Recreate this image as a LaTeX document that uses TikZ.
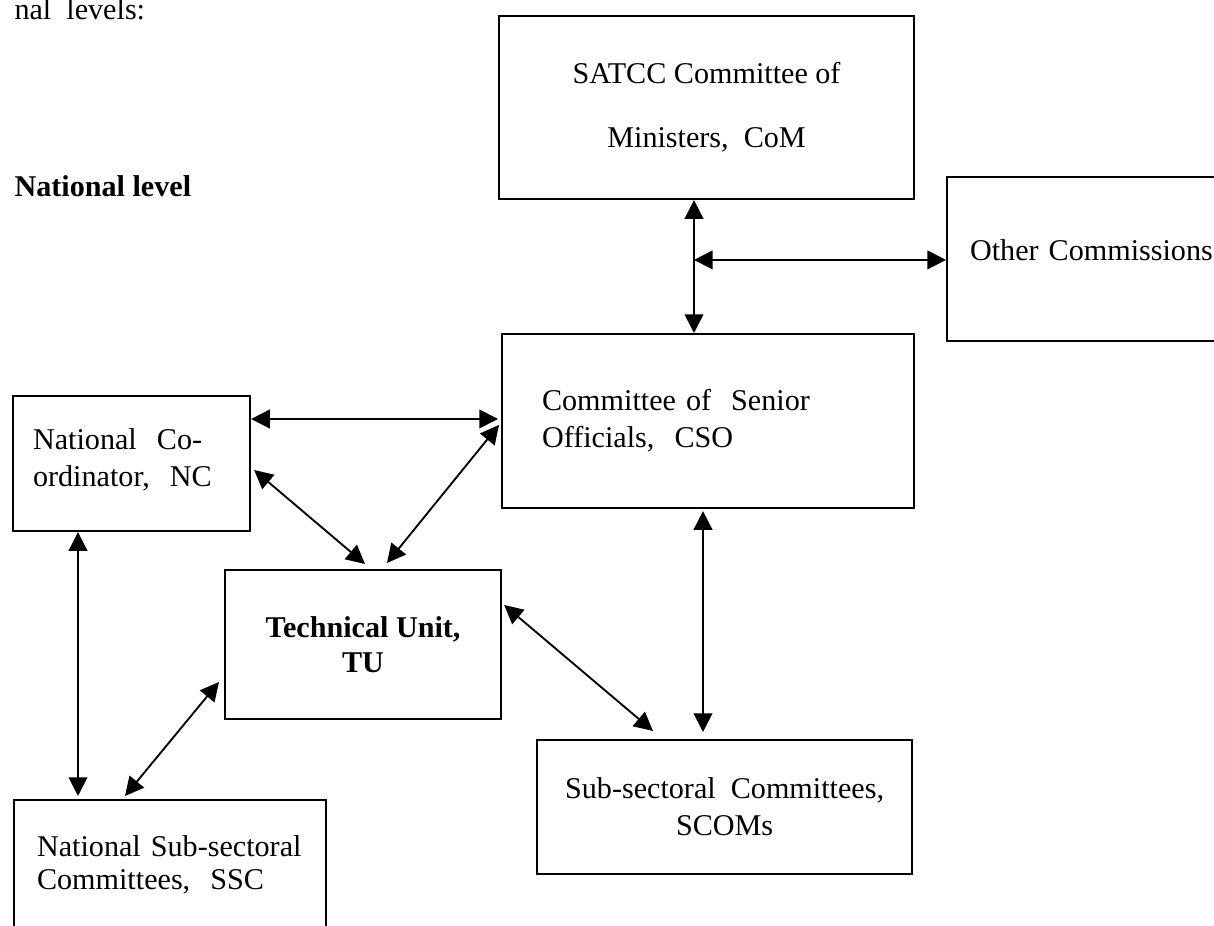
\documentclass[tikz,border=0pt]{standalone}
\usepackage{fontspec}
\setmainfont{Liberation Serif}
\usepackage{tikz}
\usetikzlibrary{
  arrows.meta,   % Triangle 箭头
  calc,          % 坐标计算
  positioning    % 节点相对定位
}

% 像素换算 (1px = 0.375pt)
\newcommand{\pxl}[1]{#1*0.375pt}

\tikzset{
  box/.style={draw, rectangle, line width=0.8pt, anchor=north west, inner sep=0pt,
    font=\fontsize{11.3pt}{13.9pt}\selectfont},
  link/.style={<->, line width=0.7pt},
  plain/.style={anchor=base west, inner sep=0pt, font=\fontsize{11.3pt}{13.9pt}\selectfont}
}

\begin{document}
\begin{tikzpicture}[x=0.375pt, y=-0.375pt, >={Triangle[length=7pt,width=7pt]}]

  \useasboundingbox (0,0) rectangle (1214,926);
  \clip (0,0) rectangle (1214,926);

  % =========== 标题文字 ===========
  \node[plain] (lvls) at (14,20) {nal\ \ levels:};
  \node[plain, font=\fontsize{11.3pt}{13.9pt}\selectfont\bfseries] (natl) at (14,197) {National level};

  % =========== 各委员会方框 ===========
  \node[box, minimum width=\pxl{415}, minimum height=\pxl{183}, align=center]
    (com) at (498,15) {SATCC Committee of\\[10pt]Ministers,\ \ CoM};
  \node[box, minimum width=\pxl{400}, minimum height=\pxl{164}, inner xsep=\pxl{23},
    text width=\pxl{354}, align=left, text height=8pt, text depth=7.25pt]
    (oth) at (946,176) {\mbox{Other Commissions}};
  \node[box, minimum width=\pxl{412}, minimum height=\pxl{174}, inner xsep=\pxl{40},
    text width=\pxl{332}, align=left]
    (cso) at (501,333) {\mbox{Committee of\ \ Senior}\\\mbox{Officials,\ \ CSO}};
  \node[box, minimum width=\pxl{237}, minimum height=\pxl{135}, inner xsep=\pxl{20},
    text width=\pxl{197}, align=left, text height=8pt, text depth=18.75pt]
    (nc) at (12,395) {\mbox{National\ \ Co-}\\\mbox{ordinator,\ \ NC}};
  \node[box, minimum width=\pxl{276}, minimum height=\pxl{149}, align=center,
    font=\fontsize{11.3pt}{13.1pt}\selectfont\bfseries]
    (tu) at (224,569) {Technical Unit,\\TU};
  \node[box, minimum width=\pxl{375}, minimum height=\pxl{134}, align=center]
    (scoms) at (536,739) {Sub-sectoral\ \ Committees,\\SCOMs};
  \node[box, minimum width=\pxl{312}, minimum height=\pxl{200}, inner xsep=\pxl{23},
    text width=\pxl{266}, align=left, text height=8pt, text depth=41pt,
    font=\fontsize{11.3pt}{12.4pt}\selectfont]
    (ssc) at (13,799) {\mbox{National Sub-sectoral}\\\mbox{Committees,\ \ SSC}};

  % =========== 双向箭头 ===========
  % CoM 与 CSO 之间的竖线, 以及通往 Other Commissions 的横线
  \coordinate (v1) at ($(com.south west)+(196,0)$);
  \coordinate (v2) at ($(cso.north west)+(193,0)$);
  \draw[link] (v1) -- (v2);
  \coordinate (j) at ($(v1)!0.45!(v2)$);
  \draw[link] (j) -- (j -| oth.west);

  % NC 与 CSO, TU
  \draw[link] ($(nc.north east)+(0,24)$) -- ($(cso.north west)+(-3,86)$);
  \draw[link] ($(nc.north east)+(3,75)$) -- ($(tu.north west)+(141,-5)$);
  \draw[link] ($(cso.north west)+(-2,92)$) -- ($(tu.north west)+(163,-6)$);

  % 下方各委员会
  \draw[link] ($(nc.south west)+(66,0)$) -- ($(ssc.north west)+(65,-3)$);
  \draw[link] ($(tu.north west)+(-5,113)$) -- ($(ssc.north west)+(112,-3)$);
  \draw[link] ($(tu.north east)+(2,36)$) -- ($(scoms.north west)+(117,-8)$);
  \draw[link] ($(cso.south west)+(202,2)$) -- ($(scoms.north west)+(167,-7)$);

\end{tikzpicture}
\end{document}
